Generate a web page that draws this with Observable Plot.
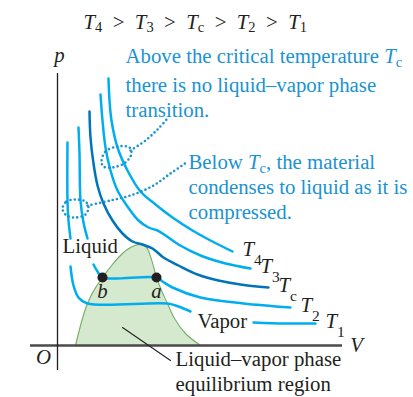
<!DOCTYPE html>
<html>
<head>
<meta charset="utf-8">
<script src="https://cdn.jsdelivr.net/npm/d3@7"></script>
<script src="https://cdn.jsdelivr.net/npm/@observablehq/plot@0.6"></script>
<style>
  html, body { margin: 0; padding: 0; background: #fff; }
  #chart svg { display: block; }
</style>
</head>
<body>
<div id="chart"></div>
<script>
// p–V diagram: isotherms of a real substance around the critical point.
// Volume V and pressure p are in arbitrary units; null marks a break in a curve.

const T4 = [[51,267],[52,245],[54,225],[60,198],[70,175],[83,154],[98,141],[115,128],[135,115],[153,105],[175,94]];
const T3 = [[43,251],[45,225],[48,198],[53,175],[60,155],[70,139],[81,125],[91,118],[100,115],[108,110],[121,101],[143,90],[168,82],[193,77]];
const Tc = [[32,234],[33,208],[36,182],[40,160],[46,142],[55,125],[65,112],[75,104],[85,101],[95,97],[106,88],[121,80],[140,71],[161,65],[183,61],[211,58]];
const T2 = [[21,218],[22,192],[23,145],[26,123],[30,107],null,[36,81],[40,74],[45,68],[99,68],[105,64],[115,58],[143,48],[186,42],[233,38]];
const T1 = [[10,203],[10,145],[11,125],[13,107],null,[13,79],[16,60],[21,48],[30,42],[110,42],[121,39],[133,34],null,[196,23],[228,22],[258,22]];

// Boundary of the liquid–vapor equilibrium region
const dome = [[18,0],[21,12],[25,27],[30,42],[37,56],[45,68],[55,81],[65,92],[75,99],[83,101],[89,98],[93,89],[96,79],[99,68],[104,55],[110,42],[117,27],[128,12],[143,0]];

// Ends of the phase-change segment on the T2 isotherm
const pointLabels = ["b", "a"];
const pointV = [45, 99];
const pointP = [68, 68];

// Isotherm labels and curves, hottest first
const isothermLabels = ["T_4", "T_3", "T_c", "T_2", "T_1"];
const isothermCurves = [T4, T3, Tc, T2, T1];

// Dotted call-out rings and their leader lines
const ringAbove = [[44,184],[48,194],[60,199],[72,198],[74,192],[68,183],[55,178],[46,179]];
const leaderAbove = [[73,195],[88,205],[100,216],[110,227]];
const ringBelow = [[5,137],[9,144],[18,146],[28,144],[31,138],[28,131],[18,128],[9,130]];
const leaderBelow = [[30,140],[53,145],[76,151],[96,160],[113,172],[129,183]];
const regionLeader = [[65,18],[113,-15]];

const titleText = "T_4\u2002>\u2002T_3\u2002>\u2002T_c\u2002>\u2002T_2\u2002>\u2002T_1";
const noteAbove = "Above the critical temperature T_c\nthere is no liquid\u2013vapor phase\ntransition.";
const noteBelow = "Below T_c, the material\ncondenses to liquid as it is\ncompressed.";
const regionText = "Liquid\u2013vapor phase\nequilibrium region";

const light = "#00aeef";
const dark = "#0074bb";
const noteBlue = "#1a93d0";
const ink = "#231f20";
const serif = "'Liberation Serif', 'Times New Roman', serif";

const isotherms = isothermLabels.map((label, i) => ({
  label,
  pts: isothermCurves[i],
  end: isothermCurves[i][isothermCurves[i].length - 1],
  color: label === "T_c" ? dark : light
}));
const points = pointLabels.map((label, i) => ({label, V: pointV[i], p: pointP[i]}));

const X = d => d ? d[0] : undefined;
const Y = d => d ? d[1] : undefined;
const dotted = {stroke: noteBlue, strokeWidth: 2.6, strokeDasharray: "0 4.3", strokeLinecap: "round"};

const plot = Plot.plot({
  width: 413,
  height: 397,
  marginTop: 0, marginRight: 0, marginBottom: 0, marginLeft: 0,
  x: {domain: [0, 300], range: [57, 357], axis: null},
  y: {domain: [0, 300], range: [345, 45], axis: null},
  style: {fontFamily: serif, fontSize: "20.8px", background: "#fff", color: ink},
  marks: [
    // equilibrium region
    Plot.areaY(dome, {x: X, y: Y, fill: "#d5e9cf", curve: "catmull-rom"}),
    Plot.line(dome, {x: X, y: Y, stroke: "#76ad68", strokeWidth: 1.1, curve: "catmull-rom"}),

    // axes
    Plot.ruleY([0], {x1: -27, x2: 285, stroke: "#4a4a4a", strokeWidth: 2.4}),
    Plot.ruleX([0], {y1: -25, y2: 272, stroke: ink, strokeWidth: 1.3}),

    // isotherms
    ...isotherms.map(d => Plot.line(d.pts, {x: X, y: Y, stroke: d.color, strokeWidth: 2.5, curve: "catmull-rom"})),

    // call-outs
    Plot.line(ringAbove, {x: X, y: Y, ...dotted, curve: "catmull-rom-closed"}),
    Plot.line(leaderAbove, {x: X, y: Y, ...dotted, curve: "catmull-rom"}),
    Plot.line(ringBelow, {x: X, y: Y, ...dotted, curve: "catmull-rom-closed"}),
    Plot.line(leaderBelow, {x: X, y: Y, ...dotted, curve: "catmull-rom"}),
    Plot.line(regionLeader, {x: X, y: Y, stroke: ink, strokeWidth: 1.1}),

    // states b and a
    Plot.dot(points, {x: "V", y: "p", r: 5, fill: ink}),
    Plot.text(points, {x: "V", y: "p", text: "label", dy: 20, lineAnchor: "bottom", fontStyle: "italic", fill: ink}),

    // isotherm labels
    Plot.text(isotherms, {x: d => d.end[0], y: d => d.end[1], text: "label", dx: 10, dy: 4, textAnchor: "start", lineAnchor: "bottom", fill: ink}),

    // axis letters
    Plot.text(["p"], {x: 2, y: 284, text: d => d, fontStyle: "italic", lineAnchor: "bottom", fill: ink}),
    Plot.text(["V"], {x: 299, y: -6, text: d => d, fontStyle: "italic", lineAnchor: "bottom", fill: ink}),
    Plot.text(["O"], {x: -14, y: -18, text: d => d, fontStyle: "italic", lineAnchor: "bottom", fill: ink}),

    // phase labels
    Plot.text(["Liquid"], {x: 5, y: 93, text: d => d, textAnchor: "start", lineAnchor: "bottom", fill: ink}),
    Plot.text(["Vapor"], {x: 140, y: 18, text: d => d, textAnchor: "start", lineAnchor: "bottom", fill: ink}),
    Plot.text([regionText], {x: 118, y: -45, text: d => d, textAnchor: "start", lineAnchor: "bottom", lineHeight: 1.16, fill: ink}),

    // notes
    Plot.text([noteAbove], {x: 68, y: 233, text: d => d, textAnchor: "start", lineAnchor: "bottom", lineHeight: 1.18, fill: noteBlue}),
    Plot.text([noteBelow], {x: 131, y: 127, text: d => d, textAnchor: "start", lineAnchor: "bottom", lineHeight: 1.2, fill: noteBlue}),

    // temperature ordering
    Plot.text([titleText], {x: 26, y: 317, text: d => d, textAnchor: "start", lineAnchor: "bottom", fill: ink})
  ]
});

// Turn "T_x" into an italic T with an upright subscript.
function subscriptify(node) {
  const s = node.textContent;
  if (!/T_\w/.test(s)) return;
  const shift = /^T_\w$/.test(s) ? 9 : s.includes(">") ? 3 : 4;
  const subSize = /^T_\w$/.test(s) ? 15.5 : 14.5;
  node.textContent = "";
  let lowered = false;
  for (const part of s.split(/(T_\w)/)) {
    if (!part) continue;
    const m = /^T_(\w)$/.exec(part);
    const t = document.createElementNS("http://www.w3.org/2000/svg", "tspan");
    if (lowered) t.setAttribute("dy", -shift);
    lowered = false;
    if (m) {
      t.setAttribute("font-style", "italic");
      t.textContent = "T";
      node.appendChild(t);
      const sub = document.createElementNS("http://www.w3.org/2000/svg", "tspan");
      sub.setAttribute("dy", shift);
      sub.setAttribute("font-size", subSize);
      sub.setAttribute("font-style", "normal");
      sub.textContent = m[1];
      node.appendChild(sub);
      lowered = true;
    } else {
      t.textContent = part;
      node.appendChild(t);
    }
  }
}

d3.select(plot).selectAll("text").each(function () {
  const lines = this.querySelectorAll(":scope > tspan");
  if (lines.length) lines.forEach(subscriptify);
  else subscriptify(this);
});

document.getElementById("chart").appendChild(plot);
</script>
</body>
</html>
